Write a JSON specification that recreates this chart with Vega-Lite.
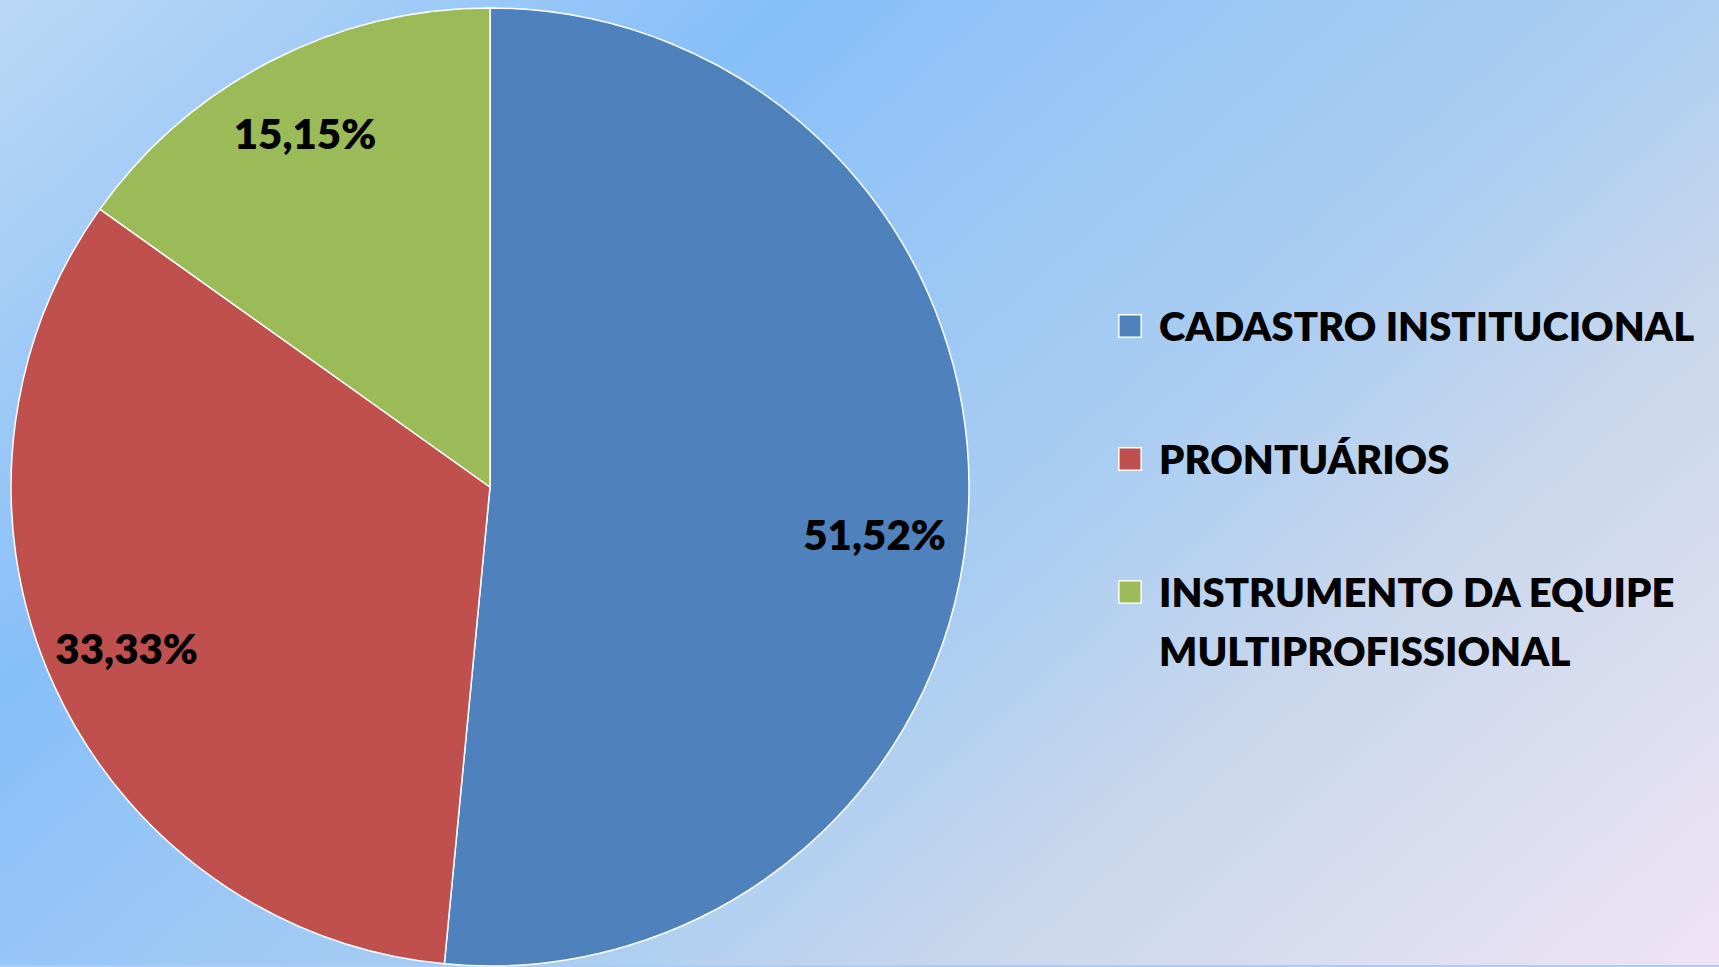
{
  "$schema": "https://vega.github.io/schema/vega-lite/v6.json",
  "width": 1719,
  "height": 967,
  "autosize": {"type": "fit", "contains": "padding"},
  "padding": 0,
  "background": "#a9cdf4",
  "view": {
    "stroke": null,
    "fill": {
      "gradient": "linear",
      "x1": 0, "y1": 0, "x2": 1.163, "y2": 0.748,
      "stops": [
        {"offset": 0, "color": "#bcd8f5"},
        {"offset": 0.28, "color": "#87bff9"},
        {"offset": 0.4, "color": "#97c6f6"},
        {"offset": 0.58, "color": "#aacdf2"},
        {"offset": 0.73, "color": "#c8d7ec"},
        {"offset": 1, "color": "#efe4f5"}
      ]
    }
  },
  "data": {
    "values": [
      {"categoria": "CADASTRO INSTITUCIONAL", "percentual": 51.52, "ordem": 1, "rotulo": "51,52%"},
      {"categoria": "PRONTUÁRIOS", "percentual": 33.33, "ordem": 2, "rotulo": "33,33%"},
      {"categoria": "INSTRUMENTO DA EQUIPE MULTIPROFISSIONAL", "percentual": 15.15, "ordem": 3, "rotulo": "15,15%"}
    ]
  },
  "encoding": {
    "theta": {"field": "percentual", "type": "quantitative", "stack": true},
    "order": {"field": "ordem", "type": "quantitative"}
  },
  "layer": [
    {
      "mark": {"type": "arc", "outerRadius": 479, "x": 490, "y": 487, "stroke": "white", "strokeWidth": 1.5},
      "encoding": {
        "color": {
          "field": "categoria",
          "type": "nominal",
          "sort": null,
          "scale": {
            "domain": ["CADASTRO INSTITUCIONAL", "PRONTUÁRIOS", "INSTRUMENTO DA EQUIPE MULTIPROFISSIONAL"],
            "range": ["#4f81bd", "#c0504d", "#9bbb59"]
          },
          "legend": {
            "orient": "none",
            "legendX": 1110,
            "legendY": 306,
            "title": null,
            "padding": 0,
            "symbolType": "square",
            "symbolSize": 500,
            "symbolStrokeColor": "white",
            "symbolStrokeWidth": 1.5,
            "symbolOpacity": 1,
            "labelFont": "Lato",
            "labelFontWeight": 800,
            "labelFontSize": 40,
            "labelColor": "black",
            "labelLimit": 1000,
            "labelOffset": 9,
            "labelBaseline": "alphabetic",
            "rowPadding": 90,
            "labelExpr": "datum.label == 'INSTRUMENTO DA EQUIPE MULTIPROFISSIONAL' ? ['INSTRUMENTO DA EQUIPE', 'MULTIPROFISSIONAL'] : datum.label",
            "encode": {"labels": {"update": {"dy": {"value": 15}, "lineHeight": {"value": 59}}}}
          }
        }
      }
    },
    {
      "mark": {"type": "text", "radius": 395, "x": 490, "y": 487, "font": "Lato", "fontWeight": 800, "fontSize": 42, "dx": -4},
      "encoding": {
        "text": {"condition": {"test": "datum.ordem == 1", "value": ""}, "field": "rotulo"},
        "detail": {"field": "categoria"},
        "color": {"value": "black"}
      }
    },
    {
      "mark": {"type": "text", "radius": 395, "x": 490, "y": 487, "font": "Lato", "fontWeight": 800, "fontSize": 42, "dx": -10, "dy": 31},
      "encoding": {
        "text": {"condition": {"test": "datum.ordem != 1", "value": ""}, "field": "rotulo"},
        "detail": {"field": "categoria"},
        "color": {"value": "black"}
      }
    }
  ]
}
